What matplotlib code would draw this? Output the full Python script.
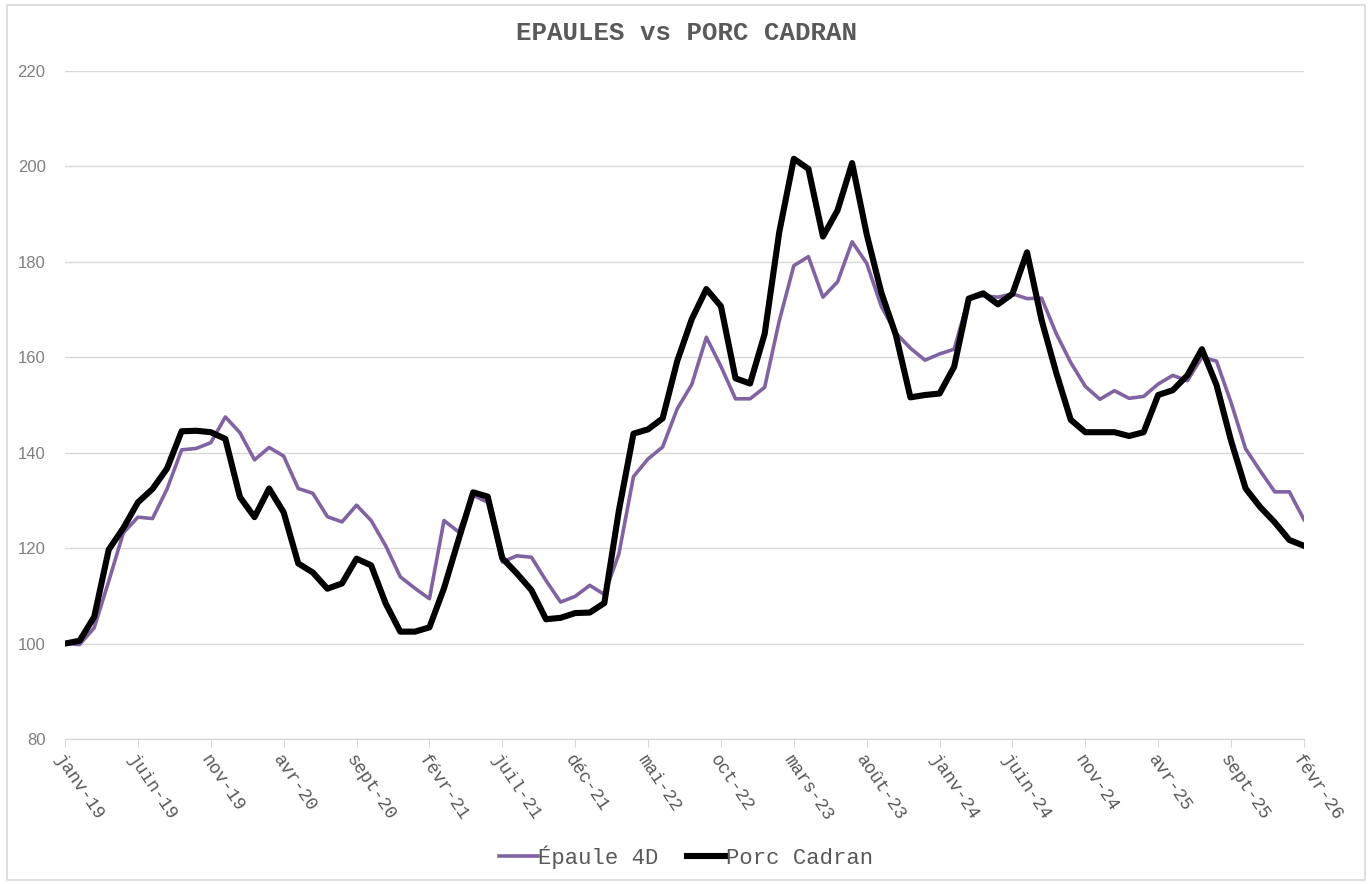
import matplotlib
matplotlib.use("Agg")
import matplotlib.pyplot as plt
from matplotlib.patches import Rectangle

# monthly index, janv-19 .. févr-26 (86 months)
epaule_4d = [100.0, 99.8, 103.3, 113.1, 123.2, 126.5, 126.2, 132.4, 140.6, 140.9,
             142.1, 147.5, 144.2, 138.5, 141.1, 139.3, 132.5, 131.5, 126.6, 125.5,
             129.0, 125.8, 120.5, 114.0, 111.6, 109.4, 125.8, 123.4, 131.1, 129.6,
             117.1, 118.4, 118.1, 113.2, 108.7, 109.9, 112.2, 110.3, 118.8, 135.0,
             138.7, 141.2, 149.2, 154.3, 164.2, 158.1, 151.3, 151.3, 153.7, 167.6,
             179.2, 181.1, 172.6, 175.8, 184.2, 179.7, 170.7, 165.1, 161.9, 159.4,
             160.7, 161.7, 172.4, 172.9, 172.6, 173.3, 172.3, 172.4, 165.0, 158.9,
             153.9, 151.2, 153.0, 151.4, 151.8, 154.4, 156.2, 155.1, 160.0, 159.2,
             150.5, 140.8, 136.2, 131.8, 131.8, 126.0]

porc_cadran = [100.0, 100.6, 105.6, 119.7, 124.2, 129.6, 132.4, 136.7, 144.5, 144.6,
               144.3, 142.9, 130.7, 126.5, 132.5, 127.5, 116.8, 114.9, 111.5, 112.6,
               117.8, 116.4, 108.4, 102.5, 102.5, 103.4, 111.6, 121.8, 131.7, 130.8,
               117.9, 114.7, 111.2, 105.1, 105.4, 106.4, 106.5, 108.5, 127.9, 144.0,
               144.9, 147.2, 159.2, 168.0, 174.3, 170.7, 155.6, 154.5, 164.9, 186.2,
               201.6, 199.5, 185.3, 190.8, 200.7, 185.8, 173.6, 164.7, 151.6, 152.1,
               152.4, 158.0, 172.3, 173.4, 171.1, 173.3, 182.0, 167.8, 156.8, 146.9,
               144.3, 144.3, 144.3, 143.5, 144.3, 152.1, 153.1, 156.2, 161.7, 154.2,
               142.5, 132.5, 128.6, 125.4, 121.7, 120.5]

tick_labels = ["janv-19", "juin-19", "nov-19", "avr-20", "sept-20", "févr-21",
               "juil-21", "déc-21", "mai-22", "oct-22", "mars-23", "août-23",
               "janv-24", "juin-24", "nov-24", "avr-25", "sept-25", "févr-26"]

months = list(range(len(porc_cadran)))
mono = "Liberation Mono"
grey = "#595959"

fig = plt.figure(figsize=(13.72, 8.84), dpi=100)
fig.patches.append(Rectangle((0.005, 0.004), 0.99, 0.99, transform=fig.transFigure,
                             fill=False, edgecolor="#d9d9d9", linewidth=1.2))
ax = fig.add_axes([0.0474, 0.164, 0.9030, 0.7557])

ax.plot(months, epaule_4d, color="#8064a2", linewidth=2.6, label="Épaule 4D", zorder=3)
ax.plot(months, porc_cadran, color="black", linewidth=4.4, label="Porc Cadran", zorder=4)

ax.set_xlim(0, len(months) - 1)
ax.set_ylim(80, 220)
ax.set_yticks(range(80, 221, 20))
ax.grid(axis="y", color="#d9d9d9", linewidth=1.0)
ax.set_axisbelow(True)
for s in ["top", "right", "left"]:
    ax.spines[s].set_visible(False)
ax.spines["bottom"].set_color("#d9d9d9")
ax.spines["bottom"].set_linewidth(1.0)

ax.set_xticks(months[::5])
ax.set_xticklabels(tick_labels, rotation=-56, ha="left", va="top",
                   rotation_mode="anchor", family=mono, fontsize=13, color=grey)
ax.tick_params(axis="x", length=6, color="#d9d9d9", pad=3)
ax.tick_params(axis="y", length=0, pad=14, labelsize=12, labelcolor="#7f7f7f")
for t in ax.get_yticklabels():
    t.set_family("Liberation Sans")

fig.text(0.5, 0.9627, "EPAULES vs PORC CADRAN", ha="center", va="center",
         family=mono, fontsize=18.5, fontweight="bold", color=grey)

leg = fig.legend(loc="center", bbox_to_anchor=(0.5, 0.0305), ncol=2, frameon=False,
                 prop={"family": mono, "size": 16}, handlelength=1.75,
                 handletextpad=0.0, columnspacing=1.3)
for t in leg.get_texts():
    t.set_color(grey)

fig.savefig("out.png", dpi=100)
